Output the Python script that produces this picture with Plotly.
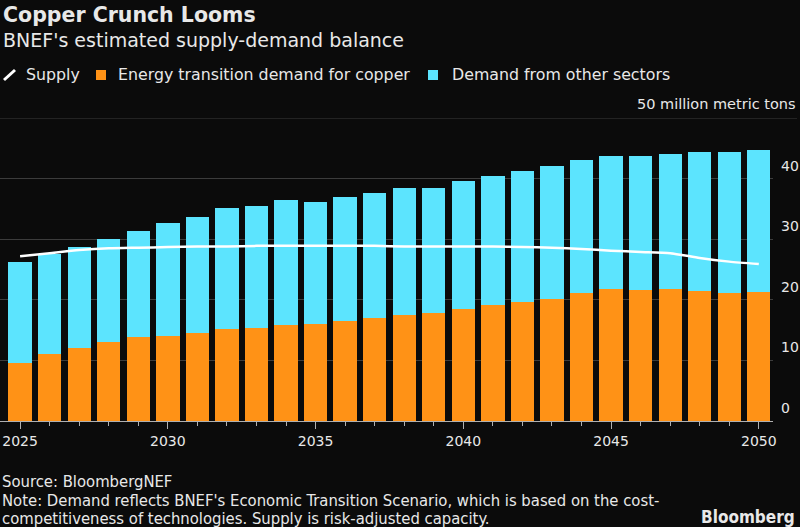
import plotly.graph_objects as go

years = list(range(2025, 2051))
energy_transition = [9.6, 11.0, 12.0, 13.0, 13.9, 14.1, 14.5, 15.1, 15.4, 15.8, 16.0, 16.5, 17.0, 17.5,
                     17.8, 18.5, 19.2, 19.6, 20.2, 21.2, 21.8, 21.6, 21.8, 21.5, 21.2, 21.3]
total_demand = [26.2, 27.6, 28.7, 30.1, 31.4, 32.7, 33.7, 35.1, 35.5, 36.5, 36.2, 37.0, 37.7, 38.5,
                38.4, 39.6, 40.5, 41.2, 42.0, 43.0, 43.7, 43.7, 44.1, 44.4, 44.4, 44.7]
other_sectors = [round(t - e, 2) for t, e in zip(total_demand, energy_transition)]
supply = [27.2, 27.7, 28.2, 28.5, 28.6, 28.7, 28.8, 28.8, 28.9, 28.9, 28.9, 28.9, 28.9, 28.8,
          28.8, 28.8, 28.8, 28.7, 28.6, 28.4, 28.1, 27.9, 27.7, 26.9, 26.3, 25.9]
y_ticks = [0, 10, 20, 30, 40]
x_ticks = [2025, 2030, 2035, 2040, 2045, 2050]

BG = "#0b0b0b"
ORANGE = "#ff9216"
CYAN = "#5ce4fe"
TEXT = "#e8e8e8"
GRID = "#3c3c3c"
FONT = "DejaVu Sans"
NARROW = "Liberation Sans Narrow, DejaVu Sans Condensed, Liberation Sans"

W, H = 800, 527
ML, MR, MT, MB = 0, 27, 118, 106
PW, PH = W - ML - MR, H - MT - MB


def px(x):
    return (x - ML) / PW


def py(y):
    return (H - MB - y) / PH


fig = go.Figure()
fig.add_bar(x=years, y=energy_transition, marker_color=ORANGE, marker_line_width=0,
            name="Energy transition demand for copper")
fig.add_bar(x=years, y=other_sectors, marker_color=CYAN, marker_line_width=0,
            name="Demand from other sectors")
fig.add_scatter(x=years, y=supply, mode="lines", line=dict(color="white", width=2.5, shape="spline", smoothing=0.6),
                name="Supply")

fig.update_layout(
    width=W, height=H, barmode="stack", bargap=0.21, showlegend=False,
    paper_bgcolor=BG, plot_bgcolor=BG,
    margin=dict(l=ML, r=MR, t=MT, b=MB),
    font=dict(family=FONT, color=TEXT, size=14),
)
fig.update_xaxes(
    range=[2024.32, 2050.48], tickvals=x_ticks, ticktext=[str(v) for v in x_ticks],
    ticks="outside", ticklen=7, tickcolor="#b0b0b0", tickwidth=1,
    minor=dict(dtick=1, tick0=2025, ticks="outside", ticklen=4, tickcolor="#b0b0b0", showgrid=False),
    showline=True, linecolor="#b0b0b0", linewidth=1, showgrid=False, zeroline=False,
    tickfont=dict(size=14, color=TEXT),
)
fig.update_yaxes(
    range=[0, 50], tickvals=y_ticks, side="right", showgrid=True, gridcolor=GRID, gridwidth=1,
    zeroline=False, showline=False, ticks="", ticklabelstandoff=7, ticklabelshift=-13,
    tickfont=dict(size=14, color=TEXT),
)

# top gridline (50) extends under the unit label
fig.add_shape(type="line", xref="paper", yref="y", x0=0, x1=px(797), y0=50, y1=50,
              line=dict(color=GRID, width=1))

ann = [
    dict(text="<b>Copper Crunch Looms</b>", x=px(1), y=py(15), size=20.5, anchor="left"),
    dict(text="BNEF's estimated supply-demand balance", x=px(1), y=py(40), size=19, anchor="left"),
    dict(text="Supply", x=px(24), y=py(75), size=15.8, anchor="left"),
    dict(text="Energy transition demand for copper", x=px(116), y=py(75), size=15.8, anchor="left"),
    dict(text="Demand from other sectors", x=px(450), y=py(75), size=15.8, anchor="left"),
    dict(text="50 million metric tons", x=px(798), y=py(104), size=14.5, anchor="right"),
]
for a in ann:
    fig.add_annotation(text=a["text"], x=a["x"], y=a["y"], xref="paper", yref="paper",
                       xanchor=a["anchor"], yanchor="middle", showarrow=False,
                       font=dict(family=FONT, size=a["size"], color=TEXT))

foot = [
    ("Source: BloombergNEF", 481),
    ("Note: Demand reflects BNEF's Economic Transition Scenario, which is based on the cost-", 500),
    ("competitiveness of technologies. Supply is risk-adjusted capacity.", 518),
]
for t, yy in foot:
    fig.add_annotation(text=t, x=px(0), y=py(yy), xref="paper", yref="paper", xanchor="left",
                       yanchor="middle", showarrow=False, font=dict(family=NARROW, size=16.5, color=TEXT))
fig.add_annotation(text="<b>Bloomberg</b>", x=px(797), y=py(517), xref="paper", yref="paper",
                   xanchor="right", yanchor="middle", showarrow=False,
                   font=dict(family=NARROW, size=17, color=TEXT))

# legend symbols
fig.add_shape(type="line", xref="paper", yref="paper", x0=px(4), x1=px(15), y0=py(80), y1=py(70),
              line=dict(color="white", width=3))
fig.add_shape(type="rect", xref="paper", yref="paper", x0=px(96), x1=px(106), y0=py(80), y1=py(70),
              fillcolor=ORANGE, line=dict(width=0))
fig.add_shape(type="rect", xref="paper", yref="paper", x0=px(428), x1=px(438), y0=py(80), y1=py(70),
              fillcolor=CYAN, line=dict(width=0))

fig.write_html("out.html", config={"displayModeBar": False},
               post_script="document.body.style.margin='0';document.body.style.overflow='hidden';")
